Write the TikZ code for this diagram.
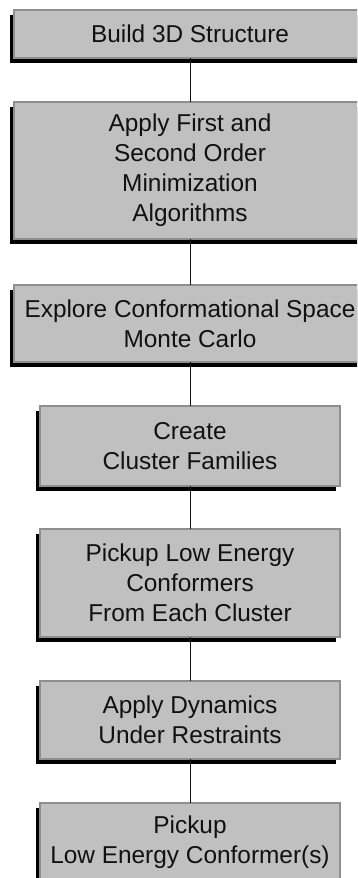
\documentclass[tikz,border=0pt]{standalone}
\usepackage{fontspec}
\setmainfont{Liberation Sans}
\usetikzlibrary{shadows}
\definecolor{boxfill}{HTML}{C0C0C0}
\definecolor{boxedge}{HTML}{8E8E8E}
\definecolor{inkc}{HTML}{111111}
\begin{document}
\begin{tikzpicture}[x=1pt,y=-1pt,
  stepbox/.style={draw=boxedge, line width=1.5pt, fill=boxfill, align=center,
    text=inkc, inner sep=0pt, outer sep=0pt,
    font=\fontsize{24.4}{30}\selectfont,
    drop shadow={shadow xshift=-4.5pt, shadow yshift=-4.5pt, fill=black, opacity=1}},
  widebox/.style={stepbox, minimum width=352pt},
  narrowbox/.style={stepbox, minimum width=300pt},
  link/.style={draw=inkc, line width=1pt}]
\useasboundingbox (0,0) rectangle (357,878);
\clip (0,0) rectangle (357,878);
\node[widebox, minimum height=48pt] (b1) at (190,34) {Build 3D Structure};
\node[widebox, minimum height=137pt] (b2) at (190,170.5) {Apply First and\\Second Order\\Minimization\\Algorithms};
\node[widebox, minimum height=77pt] (b3) at (190,323.5) {Explore Conformational Space\\Monte Carlo};
\node[narrowbox, minimum height=80pt] (b4) at (190,446) {Create\\Cluster Families};
\node[narrowbox, minimum height=108pt] (b5) at (190,583) {Pickup Low Energy\\Conformers\\From Each Cluster};
\node[narrowbox, minimum height=78pt] (b6) at (190,720) {Apply Dynamics\\Under Restraints};
\node[narrowbox, minimum height=79pt] (b7) at (190,842.5) {Pickup\\Low Energy Conformer(s)};
\draw[link] (b1.south) -- (b2.north);
\draw[link] (b2.south) -- (b3.north);
\draw[link] (b3.south) -- (b4.north);
\draw[link] (b4.south) -- (b5.north);
\draw[link] (b5.south) -- (b6.north);
\draw[link] (b6.south) -- (b7.north);
\end{tikzpicture}
\end{document}
